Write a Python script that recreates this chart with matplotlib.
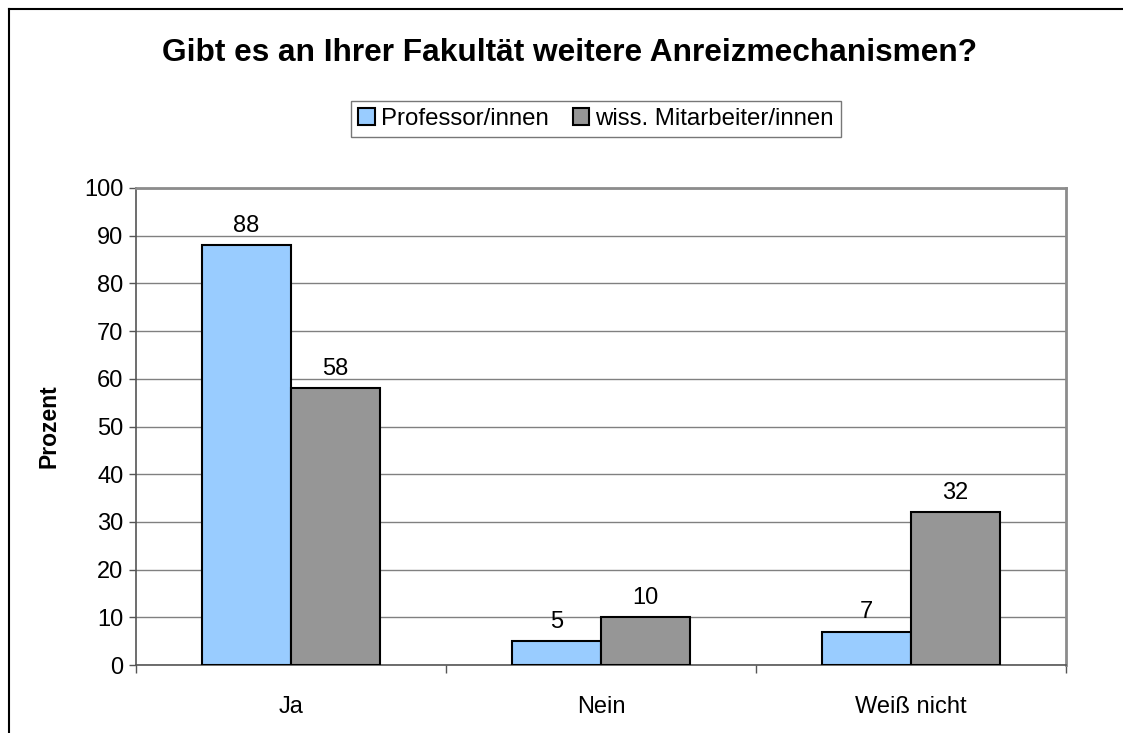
import matplotlib.pyplot as plt
import numpy as np

plt.rcParams['font.family'] = ['Liberation Sans', 'DejaVu Sans']

categories = ['Ja', 'Nein', 'Weiß nicht']
professoren = [88, 5, 7]
mitarbeiter = [58, 10, 32]
series_names = ['Professor/innen', 'wiss. Mitarbeiter/innen']
yticks = list(range(0, 101, 10))

W, H = 1123, 733
fig = plt.figure(figsize=(W / 100, H / 100), dpi=100)

# outer chart frame (only left/top visible in the original)
fig.add_artist(plt.Line2D([8.5 / W, 8.5 / W], [0, 1 - 9 / H], color='black', lw=1.5))
fig.add_artist(plt.Line2D([8.5 / W, 1], [1 - 9 / H, 1 - 9 / H], color='black', lw=1.5))

left, right, top, bottom = 136, 1066, 188, 665
ax = fig.add_axes([left / W, 1 - bottom / H, (right - left) / W, (bottom - top) / H])

x = np.arange(len(categories))
bw = 0.287
b1 = ax.bar(x - bw / 2, professoren, bw, color='#99CCFF', edgecolor='black', lw=1.5,
            label=series_names[0], zorder=3)
b2 = ax.bar(x + bw / 2, mitarbeiter, bw, color='#969696', edgecolor='black', lw=1.5,
            label=series_names[1], zorder=3)

for bars, vals in [(b1, professoren), (b2, mitarbeiter)]:
    for rect, v in zip(bars, vals):
        ax.annotate(str(v), (rect.get_x() + rect.get_width() / 2, v), xytext=(0, 6),
                    textcoords='offset points', ha='center', va='bottom', fontsize=17)

ax.set_xlim(-0.5, len(categories) - 0.5)
ax.set_ylim(0, 100)
ax.set_yticks(yticks)
ax.tick_params(axis='y', labelsize=17, direction='out', length=5, color='#555555', width=1, pad=4)
ax.set_xticks(x)
ax.set_xticklabels(categories, fontsize=17)
ax.tick_params(axis='x', length=0, pad=22)
ax.set_xticks(np.arange(-0.5, len(categories)), minor=True)
ax.tick_params(axis='x', which='minor', direction='out', length=6, color='#555555', width=1)

ax.grid(axis='y', color='#808080', lw=1, zorder=0)
for s in ['top', 'right']:
    ax.spines[s].set_color('#8c8c8c')
    ax.spines[s].set_linewidth(2)
for s in ['left', 'bottom']:
    ax.spines[s].set_color('#555555')
    ax.spines[s].set_linewidth(1.2)

ax.set_ylabel('Prozent', fontsize=16.5, fontweight='bold', labelpad=17)

fig.text(570 / W, 1 - 53 / H, 'Gibt es an Ihrer Fakultät weitere Anreizmechanismen?',
         ha='center', va='center', fontsize=22.8, fontweight='bold')

leg = fig.legend(handles=[b1, b2], loc='center', bbox_to_anchor=(596 / W, 1 - 119 / H),
                 ncol=2, fontsize=17.3, frameon=True, fancybox=False, handlelength=0.7,
                 handleheight=0.7, handletextpad=0.25, columnspacing=1.0, borderpad=0.3)
leg.get_frame().set_edgecolor('#555555')
leg.get_frame().set_linewidth(1)

fig.savefig('out.png', dpi=100)
